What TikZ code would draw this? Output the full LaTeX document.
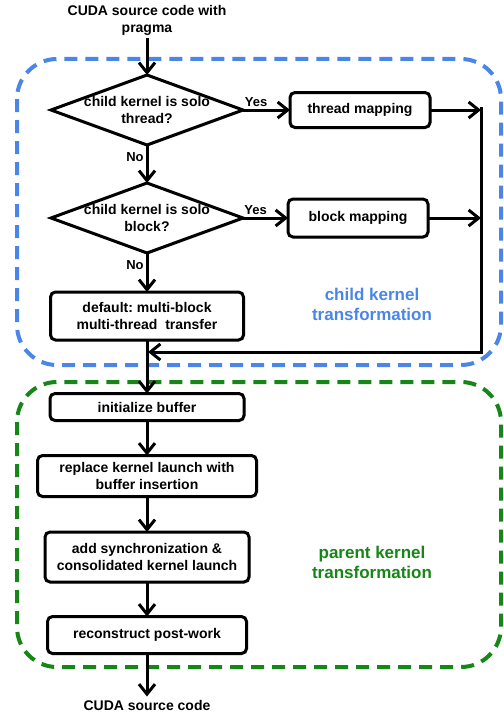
\documentclass[tikz,border=0pt]{standalone}
\usepackage{fontspec}
\setmainfont{Liberation Sans}
\usepackage{xcolor}
\usetikzlibrary{arrows.meta,shapes.geometric,shadows}

\definecolor{kblue}{RGB}{74,134,232}
\definecolor{kgreen}{RGB}{22,134,22}
\frenchspacing

\begin{document}
\begin{tikzpicture}[x=1pt, y=-1pt,
    every node/.style={font=\fontsize{14}{17}\selectfont\bfseries, align=center, outer sep=0pt},
    stepbox/.style={draw, fill=white, line width=3pt, rounded corners=5pt, inner sep=0pt,
        drop shadow={shadow xshift=1.5pt, shadow yshift=-1.5pt, opacity=0.2}},
    question/.style={draw, fill=white, diamond, line width=3pt, aspect=2.74, inner sep=-5pt,
        minimum width=192pt, minimum height=70pt,
        drop shadow={shadow xshift=1.5pt, shadow yshift=-1.5pt, opacity=0.2}},
    yesno/.style={font=\fontsize{13}{15}\selectfont\bfseries},
    caption/.style={font=\fontsize{17}{20}\selectfont\bfseries},
    arr/.style={line width=3pt, -{Straight Barb[length=10pt, width=16pt]}},
    halo/.style={line width=4pt, dash pattern=on 13pt off 8pt, rounded corners=40pt}]
    \useasboundingbox (0,0) rectangle (503,717);

    % Blue Halo
    \draw[halo, kblue] (17,59) rectangle (501,365);
    \node[caption, kblue] (childlabel) at (372,304) {child kernel\\transformation};

    % Green Halo
    \draw[halo, kgreen] (17,382) rectangle (501,667);
    \node[caption, kgreen] (parentlabel) at (372,562) {parent kernel\\transformation};

    % child kernel steps
    \node (src) at (147,20) {CUDA source code with\\pragma};
    \node[question] (solothread) at (147,110) {child kernel is solo\\thread?};
    \node[stepbox, minimum width=140pt, minimum height=35pt] (threadmap) at (360,110) {thread mapping};
    \node[question] (soloblock) at (147,218) {child kernel is solo\\block?};
    \node[stepbox, minimum width=140pt, minimum height=38pt] (blockmap) at (358,218) {block mapping};
    \node[stepbox, minimum width=193pt, minimum height=48pt] (default) at (147,316) {default: multi-block\\multi-thread~ transfer};

    % parent kernel steps
    \node[stepbox, minimum width=194pt, minimum height=27pt] (initbuf) at (147,407) {initialize buffer};
    \node[stepbox, minimum width=219pt, minimum height=41pt] (replace) at (147,476) {replace kernel launch with\\buffer insertion};
    \node[stepbox, minimum width=204pt, minimum height=50pt] (addsync) at (147,557) {add synchronization \&\\consolidated kernel launch};
    \node[stepbox, minimum width=199pt, minimum height=37pt] (recon) at (147,635) {reconstruct post-work};
    \node (dst) at (147,705) {CUDA source code};

    \coordinate (railtop) at (481,107);
    \coordinate (railbot) at (481,352);
    \coordinate (merge) at (148,352);

    % Arrows
    \draw[arr] (src) -- (solothread);
    \draw[arr] (solothread) -- node[yesno, above, pos=0.28] {Yes} (threadmap);
    \draw[arr] (threadmap) -- (threadmap -| railtop);
    \draw[arr] (solothread) -- node[yesno, left, pos=0.32] {No} (soloblock);
    \draw[arr] (soloblock) -- node[yesno, above, pos=0.28] {Yes} (blockmap);
    \draw[arr] (blockmap) -- (blockmap -| railtop);
    \draw[arr] (soloblock) -- node[yesno, left, pos=0.3] {No} (default);
    \draw[arr] (railtop) -- (railbot) -- (merge);
    \draw[arr] (default) -- (initbuf);
    \draw[arr] (initbuf) -- (replace);
    \draw[arr] (replace) -- (addsync);
    \draw[arr] (addsync) -- (recon);
    \draw[arr] (recon) -- (dst);

\end{tikzpicture}
\end{document}
